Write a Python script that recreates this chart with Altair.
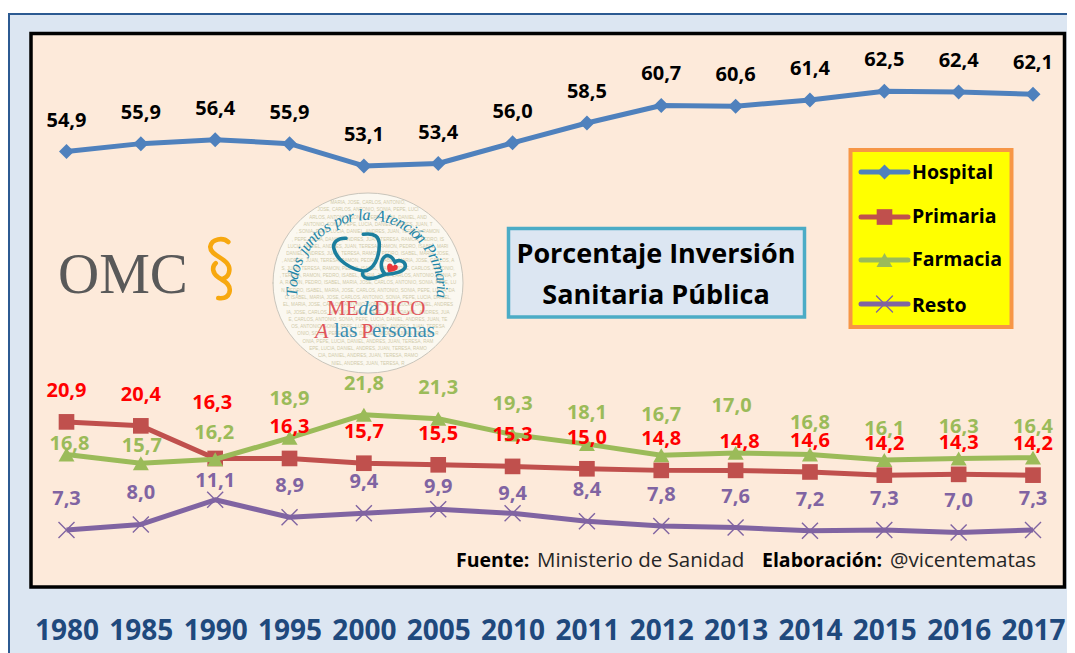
import math
import altair as alt
import pandas as pd

years = ["1980","1985","1990","1995","2000","2005","2010","2011","2012","2013","2014","2015","2016","2017"]
hospital = [54.9,55.9,56.4,55.9,53.1,53.4,56.0,58.5,60.7,60.6,61.4,62.5,62.4,62.1]
primaria = [20.9,20.4,16.3,16.3,15.7,15.5,15.3,15.0,14.8,14.8,14.6,14.2,14.3,14.2]
farmacia = [16.8,15.7,16.2,18.9,21.8,21.3,19.3,18.1,16.7,17.0,16.8,16.1,16.3,16.4]
resto = [7.3,8.0,11.1,8.9,9.4,9.9,9.4,8.4,7.8,7.6,7.2,7.3,7.0,7.3]

W, H = 1059, 645
FONT = "Open Sans"
LABEL_SIZE = 20
def px(v): return v - 8

# value -> pixel: 7.3 sits at y=522 of the canvas, 7.95 px per unit
y_lo = 7.3 - (H - 522) / 7.95
y_hi = 7.3 + 522 / 7.95

x_enc = alt.X("year:N", sort=years, title=None,
    scale=alt.Scale(type="point", domain=years, range=[px(66.5), px(1033)], padding=0),
    axis=alt.Axis(orient="bottom", offset=-(H - 623), domain=False, ticks=False, grid=False, labelAngle=0,
                  labelFont=FONT, labelFontSize=28, labelFontWeight="bold", labelColor="#1f497d",
                  labelBaseline="middle", labelPadding=0, labelOverlap=False, labelFlush=False,
                  labelBound=False, zindex=1))
y_enc = alt.Y("value:Q", title=None, axis=None,
    scale=alt.Scale(domain=[y_lo, y_hi], range=[H, 0], zero=False, nice=False))

layers = []

def rect(x0, y0, x1, y1, fill, stroke=None, sw=0):
    kw = dict(fill=fill)
    if stroke: kw.update(stroke=stroke, strokeWidth=sw)
    layers.append(alt.Chart(pd.DataFrame({"a":[0]})).mark_rect(**kw).encode(
        x=alt.value(px(x0)), x2=alt.value(px(x1)), y=alt.value(px(y0)), y2=alt.value(px(y1))))

def text(s, x, y, size, color="#000000", weight="normal", font=FONT, align="left", angle=0,
         baseline="middle", style="normal", opacity=1):
    layers.append(alt.Chart(pd.DataFrame({"a":[0]})).mark_text(
        font=font, fontSize=size, color=color, fontWeight=weight, align=align, angle=angle,
        baseline=baseline, fontStyle=style, opacity=opacity).encode(
        x=alt.value(px(x)), y=alt.value(px(y)), text=alt.value(s)))

def symbol(shape, x, y, size, fill="transparent", stroke="transparent", sw=0):
    layers.append(alt.Chart(pd.DataFrame({"a":[0]})).mark_point(
        shape=shape, size=size, fill=fill, stroke=stroke, strokeWidth=sw, opacity=1, filled=False,
        strokeCap="round").encode(x=alt.value(px(x)), y=alt.value(px(y))))

# panels
rect(9, 14, 1090, 700, "#dce6f2", "#2c5a92", 2)
rect(31, 33.5, 1064.5, 587, "#fdeada", "#000000", 3.5)

# OMC logo
text("OMC", 58, 293, 57, "#595959", font="Liberation Serif", baseline="alphabetic")
def S(zx, zy):
    return f"{(195 + zx / 3 - 220) / 100:.3f},{(230 + zy / 3 - 268) / 100:.3f}"
sect = ("M" + S(100,36) + "C" + " ".join(S(*p) for p in [(85,22),(50,25),(46,50)])
        + "C" + " ".join(S(*p) for p in [(44,80),(108,85),(103,122)])
        + "C" + " ".join(S(*p) for p in [(102,132),(95,142),(85,146)])
        + "M" + S(62,100) + "C" + " ".join(S(*p) for p in [(50,110),(52,130),(70,142)])
        + "C" + " ".join(S(*p) for p in [(90,155),(110,165),(103,188)])
        + "C" + " ".join(S(*p) for p in [(98,202),(85,206),(70,204)]))
symbol(sect, 220, 268, 40000, stroke="#f7a80f", sw=4.6)

# circular logo
CX, CY = 368, 283
RX, RY = 95, 90
k = 0.5523
def ell(rx, ry):
    a, b = rx / 100, ry / 100
    return (f"M{-a},0C{-a},{-b*k} {-a*k},{-b} 0,{-b}C{a*k},{-b} {a},{-b*k} {a},0"
            f"C{a},{b*k} {a*k},{b} 0,{b}C{-a*k},{b} {-a},{b*k} {-a},0Z")
symbol(ell(RX, RY), CX, CY, 40000, fill="#fbf8f0", stroke="#c9c5bb", sw=1)
names = "MARIA, JOSE, CARLOS, ANTONIO, SONIA, PEPE, LUCIA, DANIEL, ANDRES, JUAN, TERESA, RAMON, PEDRO, ISABEL, "
row_y = 203
i = 0
while row_y < 368:
    half = RX * math.sqrt(max(0, 1 - ((row_y - CY) / RY) ** 2)) - 5
    n = int(2 * half / 2.55)
    if n > 3:
        s = (names * 3)[i * 7:i * 7 + n]
        text(s, CX, row_y, 4.6, "#c4bb92", font="Liberation Sans", align="center", opacity=0.75)
    row_y += 7.3
    i += 1

arc = "Todos juntos por la Atención Primaria"
def cw(c):
    if c in "ijltrf ,ó": return 0.62
    if c in "mAPT": return 1.45
    return 1.0
ws = [cw(c) for c in arc]
total = sum(ws)
acc = 0
for c, w_ in zip(arc, ws):
    frac = (acc + w_ / 2) / total
    acc += w_
    deg = -96 + 192 * frac
    r = 75
    ax = 367 + r * math.sin(math.radians(deg))
    ay = 290 - r * math.cos(math.radians(deg))
    if c != " ":
        text(c, ax, ay, 16, "#1f86a8", font="Liberation Serif", align="center", angle=deg % 360, style="italic")

def P(zx, zy):
    return f"{(260 + zx / 3 - CX) / 100:.3f},{(185 + zy / 3 - CY) / 100:.3f}"
def path(cmds):
    return "".join(c + " ".join(P(*p) for p in pts) for c, pts in cmds)
steth = path([
    ("M", [(258,160)]),
    ("C", [(235,158),(216,172),(222,192)]),
    ("C", [(230,225),(270,252),(310,258)]),
    ("C", [(342,258),(358,215),(358,180)]),
    ("C", [(358,155),(345,143),(310,148)]),
    ("M", [(310,258)]),
    ("C", [(300,282),(330,288),(375,268)]),
    ("C", [(355,245),(365,210),(385,212)]),
    ("C", [(398,214),(402,228),(405,232)]),
    ("C", [(415,222),(438,228),(436,245)]),
    ("C", [(434,258),(405,268),(375,268)]),
])
symbol(steth, CX, CY, 40000, stroke="#1c7f9e", sw=3.6)
heart = path([
    ("M", [(385,262)]),
    ("C", [(378,245),(382,232),(392,236)]),
    ("C", [(397,238),(398,242),(399,243)]),
    ("C", [(405,236),(416,240),(413,250)]),
    ("C", [(410,258),(398,260),(385,262)]),
])
symbol(heart, CX, CY, 40000, fill="#e8383c")

text("ME", 327, 309, 21, "#e0555a", font="Liberation Serif")
text("de", 358, 309, 21, "#3a8db0", font="Liberation Serif", style="italic")
text("DICO", 374, 309, 21, "#e0555a", font="Liberation Serif")
text("A", 315, 331, 22, "#e0555a", font="Liberation Serif", style="italic")
text("las", 334, 331, 21, "#3a8db0", font="Liberation Serif")
text("P", 361, 331, 22, "#e0555a", font="Liberation Serif")
text("ersonas", 372, 331, 21, "#3a8db0", font="Liberation Serif")

# title box
rect(508.5, 228.5, 804.5, 317, "#dce6f2", "#4bacc6", 3.5)
text("Porcentaje Inversión", 656, 255, 27, weight="bold", align="center")
text("Sanitaria Pública", 656, 296, 27, weight="bold", align="center")

# footer
text("Fuente:", 456, 561, 19.5, weight="bold")
text("Ministerio de Sanidad", 537, 561, 20.5, "#262626")
text("Elaboración:", 762, 561, 19.5, weight="bold")
text("@vicentematas", 890, 561, 20.6, "#262626")

# series
X_SHAPE = "M-1,-1L1,1M-1,1L1,-1"
series = [
    ("Hospital", hospital, "#4f81bd", "diamond", 225, "#000000", 172),
    ("Primaria", primaria, "#c0504d", "square", 245, "#ff0000", 217),
    ("Farmacia", farmacia, "#9bbb59", "triangle-up", 256, "#9bbb59", 260),
    ("Resto", resto, "#8064a2", X_SHAPE, 256, "#8064a2", 304),
]
for name, vals, col, shape, size, _, _ly in series:
    df = pd.DataFrame({"year": years, "value": vals})
    layers.append(alt.Chart(df).mark_line(color=col, strokeWidth=5, strokeJoin="round").encode(x=x_enc, y=y_enc))
    if shape == X_SHAPE:
        m = alt.Chart(df).mark_point(shape=shape, size=size, stroke=col, strokeWidth=1.4, filled=False, fill="transparent", opacity=1)
    else:
        m = alt.Chart(df).mark_point(shape=shape, size=size, fill=col, filled=True, opacity=1)
    layers.append(m.encode(x=x_enc, y=y_enc))

# label offsets from the point: year -> (dx, dy), the rest use the default
default_off = (0, -31)
label_offsets = {
    "Hospital": {},
    "Farmacia": {"1980": (3, -10), "1985": (1, -17), "1990": (-1, -26), "1995": (0, -39),
                 "2012": (0, -40), "2013": (-4, -47)},
    "Resto": {"1990": (0, -19), "2005": (0, -22), "2010": (0, -19)},
    "Primaria": {"1990": (-3, -55), "2013": (4, -28)},
}
by_name = {s[0]: s for s in series}
for name in ["Hospital", "Farmacia", "Resto", "Primaria"]:
    _, vals, _, _, _, lcol, _ = by_name[name]
    offs = [label_offsets[name].get(y, default_off) for y in years]
    df = pd.DataFrame({"year": years, "value": vals,
                       "label": [f"{v:.1f}".replace(".", ",") for v in vals]})
    for off in sorted(set(offs)):
        sub = df[[o == off for o in offs]]
        layers.append(alt.Chart(sub).mark_text(font=FONT, fontSize=LABEL_SIZE, fontWeight="bold", color=lcol,
                      dx=off[0], dy=off[1], baseline="middle", align="center").encode(
                      x=x_enc, y=y_enc, text="label:N"))

# legend
rect(850.5, 150, 1011.5, 327, "#ffff00", "#f79646", 4)
legend_text_y = {"Hospital": 173, "Primaria": 217, "Farmacia": 260, "Resto": 306}
for name, _, col, shape, size, _, ly in series:
    layers.append(alt.Chart(pd.DataFrame({"a":[0]})).mark_rule(color=col, strokeWidth=5, strokeCap="round").encode(
        x=alt.value(px(861)), x2=alt.value(px(908)), y=alt.value(px(ly))))
    if shape == X_SHAPE:
        symbol(shape, 884.5, ly, size, stroke=col, sw=1.4)
    else:
        symbol(shape, 884.5, ly, size, fill=col)
    text(name, 912, legend_text_y[name], 19.5, weight="bold")

chart = alt.layer(*layers).properties(
    width=W, height=H, padding=0, autosize=alt.AutoSizeParams(type="none")
).configure_view(stroke=None)

chart.save("out.html", embed_options={"renderer": "svg", "actions": False})
